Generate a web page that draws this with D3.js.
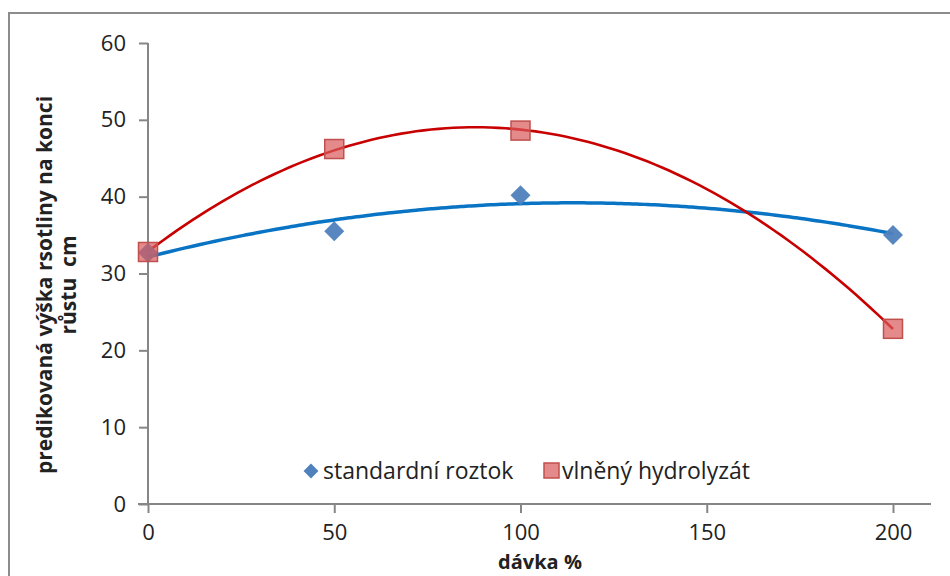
<!DOCTYPE html>
<html>
<head>
<meta charset="utf-8">
<script src="https://cdn.jsdelivr.net/npm/d3@7"></script>
<style>
  body { margin: 0; background: #fff; }
  text { font-family: "Open Sans", "Noto Sans", sans-serif; }
</style>
</head>
<body>
<svg id="chart"></svg>
<script>
// Data
const doses = [0, 50, 100, 200];
const standardValues = [32.7, 35.5, 40.2, 35.0];
const hydrolyzateValues = [32.8, 46.2, 48.6, 22.8];
const seriesNames = ["standardní roztok", "vlněný hydrolyzát"];
const xTicks = [0, 50, 100, 150, 200];
const yTicks = [0, 10, 20, 30, 40, 50, 60];

const width = 950;
const height = 576;

const svg = d3.select("#chart").attr("width", width).attr("height", height);

// outer chart border (cut off at right and bottom)
svg.append("rect")
    .attr("x", 9).attr("y", 13)
    .attr("width", 1000).attr("height", 1000)
    .attr("fill", "none")
    .attr("stroke", "#8c8c8c")
    .attr("stroke-width", 2);

const xScale = d3.scaleLinear().domain([0, 200]).range([148, 893]);
const yScale = d3.scaleLinear().domain([0, 60]).range([504, 43]);

// quadratic least-squares fit, like the spreadsheet trendline
function polyFit2(xs, ys) {
    let s = [0, 0, 0, 0, 0], t = [0, 0, 0];
    xs.forEach((x, i) => {
        for (let k = 0; k < 5; k++) s[k] += Math.pow(x, k);
        for (let k = 0; k < 3; k++) t[k] += ys[i] * Math.pow(x, k);
    });
    const A = [[s[0], s[1], s[2], t[0]], [s[1], s[2], s[3], t[1]], [s[2], s[3], s[4], t[2]]];
    for (let i = 0; i < 3; i++) {
        for (let j = i + 1; j < 3; j++) {
            const f = A[j][i] / A[i][i];
            for (let k = i; k < 4; k++) A[j][k] -= f * A[i][k];
        }
    }
    const c = [0, 0, 0];
    for (let i = 2; i >= 0; i--) {
        let v = A[i][3];
        for (let k = i + 1; k < 3; k++) v -= A[i][k] * c[k];
        c[i] = v / A[i][i];
    }
    return x => c[0] + c[1] * x + c[2] * x * x;
}

// axes
const yAxis = svg.append("g")
    .attr("transform", "translate(148,0)")
    .call(d3.axisLeft(yScale).tickValues(yTicks).tickSize(9).tickPadding(13));
const xAxis = svg.append("g")
    .attr("transform", "translate(0,504)")
    .call(d3.axisBottom(xScale).tickValues(xTicks).tickSize(9).tickPadding(11));

[xAxis, yAxis].forEach(g => {
    g.select(".domain").attr("stroke", "#868686").attr("stroke-width", 2);
    g.selectAll(".tick line").attr("stroke", "#868686").attr("stroke-width", 2);
    g.selectAll(".tick text")
        .attr("fill", "#222")
        .style("font-size", "22px")
        .style("font-family", "'Open Sans', sans-serif");
});
// x axis line continues a bit to the left of the y axis and past 200
xAxis.select(".domain").attr("d", `M${138},0H${931}`);
yAxis.select(".domain").attr("d", `M0,${yScale(60)}V${yScale(0)}`);

// trendlines
const grid = d3.range(0, 200.5, 2);
const line = d3.line().x(d => xScale(d[0])).y(d => yScale(d[1])).curve(d3.curveMonotoneX);

const fitStd = polyFit2(doses, standardValues);
const fitHyd = polyFit2(doses, hydrolyzateValues);

svg.append("path")
    .datum(grid.map(x => [x, fitStd(x)]))
    .attr("d", line)
    .attr("fill", "none")
    .attr("stroke", "#0a74c4")
    .attr("stroke-width", 3.5);

svg.append("path")
    .datum(grid.map(x => [x, fitHyd(x)]))
    .attr("d", line)
    .attr("fill", "none")
    .attr("stroke", "#c80000")
    .attr("stroke-width", 2.6);

// markers
const diamond = d3.symbol().type(d3.symbolSquare).size(200);
svg.selectAll(".std-pt")
    .data(doses.map((x, i) => [x, standardValues[i]]))
    .join("path")
    .attr("class", "std-pt")
    .attr("d", diamond)
    .attr("transform", d => `translate(${xScale(d[0])},${yScale(d[1])}) rotate(45)`)
    .attr("fill", "#4f81bd")
    .attr("fill-opacity", 0.95);

svg.selectAll(".hyd-pt")
    .data(doses.map((x, i) => [x, hydrolyzateValues[i]]))
    .join("rect")
    .attr("class", "hyd-pt")
    .attr("x", d => xScale(d[0]) - 9.5)
    .attr("y", d => yScale(d[1]) - 9.5)
    .attr("width", 19).attr("height", 19)
    .attr("fill", "#d9585a")
    .attr("fill-opacity", 0.7)
    .attr("stroke", "#c0504d")
    .attr("stroke-width", 1.5);

// legend
const legend = svg.append("g").attr("transform", "translate(0,471)");
legend.append("path")
    .attr("d", d3.symbol().type(d3.symbolSquare).size(110))
    .attr("transform", "translate(311,0) rotate(45)")
    .attr("fill", "#4f81bd");
legend.append("text")
    .attr("x", 323).attr("y", 8)
    .attr("fill", "#222")
    .style("font-size", "23px")
    .text(seriesNames[0]);
legend.append("rect")
    .attr("x", 544).attr("y", -8)
    .attr("width", 15).attr("height", 15)
    .attr("fill", "#d9585a").attr("fill-opacity", 0.7)
    .attr("stroke", "#c0504d").attr("stroke-width", 1.5);
legend.append("text")
    .attr("x", 562).attr("y", 8)
    .attr("fill", "#222")
    .style("font-size", "23px")
    .text(seriesNames[1]);

// axis titles
svg.append("text")
    .attr("x", 540).attr("y", 569)
    .attr("text-anchor", "middle")
    .attr("fill", "#222")
    .style("font-size", "20px")
    .style("font-weight", "bold")
    .text("dávka %");

const yTitle = svg.append("text")
    .attr("transform", "translate(0,285) rotate(-90)")
    .attr("text-anchor", "middle")
    .attr("fill", "#222")
    .style("font-size", "21px")
    .style("font-weight", "bold")
    .style("white-space", "pre");
yTitle.append("tspan").attr("x", 0).attr("y", 52).text("predikovaná výška rsotliny na konci");
yTitle.append("tspan").attr("x", 0).attr("y", 76).text("růstu  cm");
</script>
</body>
</html>
